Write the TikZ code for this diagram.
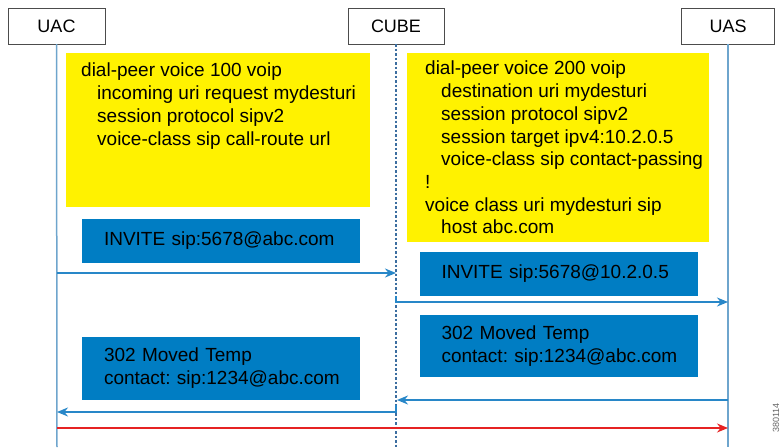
\documentclass[tikz,border=0pt]{standalone}
\usepackage{fontspec}
\setmainfont{Liberation Sans}
\usetikzlibrary{positioning, arrows.meta}
\definecolor{cfgyellow}{RGB}{255,242,0}
\definecolor{msgblue}{RGB}{0,125,195}
\definecolor{lineblue}{RGB}{40,135,200}
\definecolor{lifeblue}{RGB}{110,165,205}
\definecolor{cubeblue}{RGB}{60,110,160}
\definecolor{flowred}{RGB}{230,35,35}

\begin{document}
\begin{tikzpicture}[x=1pt, y=-1pt]
\tikzstyle{head}=[draw=black!70, fill=white, minimum width=97pt, minimum height=36pt, font=\fontsize{18}{22}\selectfont]
\tikzstyle{cfgbox}=[fill=cfgyellow, anchor=north west]
\tikzstyle{cfgtext}=[anchor=north west, align=left, inner sep=0pt, font=\fontsize{19}{22.7}\selectfont]
\tikzstyle{msg}=[fill=msgblue, text width=234pt, inner xsep=22pt, align=left, font=\fontsize{19}{23}\selectfont]
\tikzstyle{life}=[draw=lifeblue, line width=1.5pt]
\tikzstyle{flow}=[draw=lineblue, line width=1.8pt, -{Stealth[length=11pt,width=9pt]}]

\useasboundingbox (0,0) rectangle (784,447);

\node[head](uac) at (56.5,26){UAC};
\node[head, minimum width=96pt](cube) at (396,26){CUBE};
\node[head, minimum width=93pt](uas) at (728,26){UAS};

\coordinate (uacend) at (57,447);
\coordinate (cubeend) at (396,447);
\coordinate (uasend) at (728,447);

\path[life](uac) -- (uacend);
\path[life](uas) -- (uasend);
\path[draw=cubeblue, line width=1.5pt, dash pattern=on 2.5pt off 2pt](cube) -- (cubeend);

% configuration
\node[cfgbox, minimum width=304pt, minimum height=154pt](cfg1) at (66,53){};
\node[cfgtext](cfg1txt) at (81,63){dial-peer voice 100 voip\\
\hspace*{16pt}incoming uri request mydesturi\\
\hspace*{16pt}session protocol sipv2\\
\hspace*{16pt}voice-class sip call-route url};

\node[cfgbox, minimum width=302pt, minimum height=189pt](cfg2) at (407,53){};
\node[cfgtext](cfg2txt) at (425,61){dial-peer voice 200 voip\\
\hspace*{16pt}destination uri mydesturi\\
\hspace*{16pt}session protocol sipv2\\
\hspace*{16pt}session target ipv4:10.2.0.5\\
\hspace*{16pt}voice-class sip contact-passing\\
!\\
voice class uri mydesturi sip\\
\hspace*{16pt}host abc.com};

% messages
\node[msg, minimum height=44pt](inv1) at (221,241){INVITE~sip:5678@abc.com};
\node[msg, minimum height=44pt](inv2) at (558.5,274){INVITE~sip:5678@10.2.0.5};
\node[msg, minimum height=62pt](moved2) at (558.5,346){302 Moved Temp\\contact:~sip:1234@abc.com};
\node[msg, minimum height=63pt](moved1) at (221,368.5){302 Moved Temp\\contact:~sip:1234@abc.com};

\coordinate (uac1) at (57,273);
\coordinate (cube1) at (396,273);
\coordinate (cube2) at (396,296);
\coordinate (uas2) at (728,302);
\coordinate (uas3) at (728,400);
\coordinate (cube3) at (397,400);
\coordinate (cube4) at (396,405);
\coordinate (uac4) at (57,412);
\coordinate (uac5) at (57,428);
\coordinate (uas5) at (728,428);

\path[flow](uac1) -- (cube1);
\path[flow](cube2) |- (uas2);
\path[flow](uas3) -- (cube3);
\path[flow](cube4) |- (uac4);
\path[draw=flowred, line width=1.5pt, -{Stealth[length=11pt,width=9pt]}](uac5) -- (uas5);

\node[rotate=90, font=\fontsize{9}{11}\selectfont, text=black!60](figid) at (776,418){380114};

\end{tikzpicture}
\end{document}
